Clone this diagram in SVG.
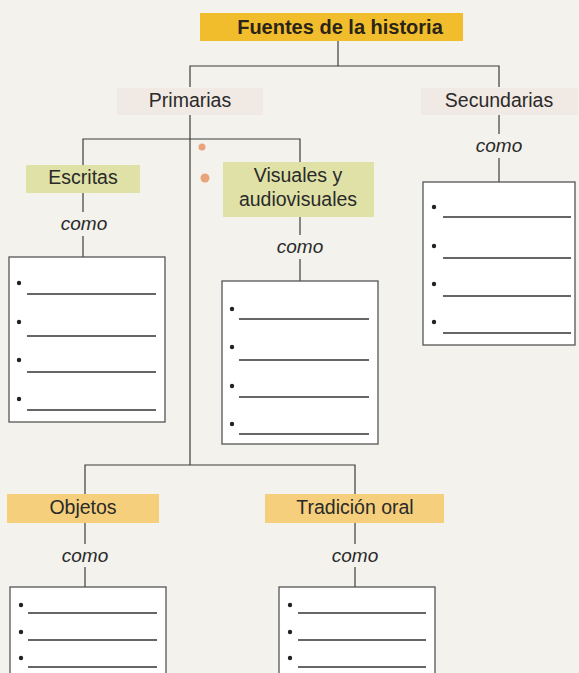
<svg xmlns="http://www.w3.org/2000/svg" width="579" height="673" viewBox="0 0 579 673">
<style>
.bg{fill:#f3f2ec}
.lbl{font-family:"Liberation Sans",Arial,sans-serif;font-size:19.5px;fill:#2a2a2a;text-anchor:middle}
.ttl{font-family:"Liberation Sans",Arial,sans-serif;font-size:20px;font-weight:bold;fill:#2a2418;text-anchor:middle}
.como{font-family:"Liberation Sans",Arial,sans-serif;font-size:19px;font-style:italic;fill:#2a2a2a;text-anchor:middle}
.conn line,.conn path{stroke:#3c3c3c;stroke-width:1.2;fill:none}
.list{fill:#ffffff;stroke:#555;stroke-width:1.3}
.rule{stroke:#333;stroke-width:1.3}
.dot{fill:#222}
.yel{fill:#f2bd2c}
.grn{fill:#dfe1a6}
.org{fill:#f5cf7c}
.pnk{fill:#f1e9e3}
.mark{fill:#eaa47c}
</style>
<rect class="bg" x="0" y="0" width="579" height="673"/>

<g id="connectors" class="conn">
  <line x1="338" y1="40" x2="338" y2="66"/>
  <path d="M190,87 V66 H499 V87"/>
  <line x1="190" y1="115" x2="190" y2="465"/>
  <path d="M83,165 V139 H300 V162"/>
  <line x1="83" y1="193" x2="83" y2="212"/>
  <line x1="83" y1="236" x2="83" y2="257"/>
  <line x1="300" y1="217" x2="300" y2="235"/>
  <line x1="300" y1="259" x2="300" y2="281"/>
  <line x1="499" y1="115" x2="499" y2="134"/>
  <line x1="499" y1="158" x2="499" y2="182"/>
  <path d="M85,494 V465 H355 V494"/>
  <line x1="85" y1="523" x2="85" y2="544"/>
  <line x1="85" y1="567" x2="85" y2="587"/>
  <line x1="355" y1="523" x2="355" y2="544"/>
  <line x1="355" y1="567" x2="355" y2="587"/>
</g>

<g id="marks">
  <circle class="mark" cx="202" cy="147" r="3.5"/>
  <circle class="mark" cx="205" cy="178" r="4.5"/>
</g>

<g id="title">
  <rect class="yel" x="200" y="13" width="263" height="28"/>
  <text class="ttl" x="340" y="34">Fuentes de la historia</text>
</g>

<g id="primarias">
  <rect class="pnk" x="117" y="88" width="146" height="27"/>
  <text class="lbl" x="190" y="107">Primarias</text>
</g>

<g id="secundarias">
  <rect class="pnk" x="421" y="88" width="157" height="27"/>
  <text class="lbl" x="499" y="107">Secundarias</text>
  <text class="como" x="499" y="152">como</text>
  <rect class="list" x="423" y="182" width="152" height="163"/>
  <circle class="dot" cx="434" cy="207" r="2.2"/>
  <line class="rule" x1="443" y1="217" x2="571" y2="217"/>
  <circle class="dot" cx="434" cy="246" r="2.2"/>
  <line class="rule" x1="443" y1="258" x2="571" y2="258"/>
  <circle class="dot" cx="434" cy="284" r="2.2"/>
  <line class="rule" x1="443" y1="296" x2="571" y2="296"/>
  <circle class="dot" cx="434" cy="322" r="2.2"/>
  <line class="rule" x1="443" y1="333" x2="571" y2="333"/>
</g>

<g id="escritas">
  <rect class="grn" x="26" y="165" width="114" height="28"/>
  <text class="lbl" x="83" y="184">Escritas</text>
  <text class="como" x="84" y="230">como</text>
  <rect class="list" x="9" y="257" width="156" height="165"/>
  <circle class="dot" cx="19" cy="283" r="2.2"/>
  <line class="rule" x1="27" y1="294" x2="156" y2="294"/>
  <circle class="dot" cx="19" cy="322" r="2.2"/>
  <line class="rule" x1="27" y1="336" x2="156" y2="336"/>
  <circle class="dot" cx="19" cy="360" r="2.2"/>
  <line class="rule" x1="27" y1="372" x2="156" y2="372"/>
  <circle class="dot" cx="19" cy="399" r="2.2"/>
  <line class="rule" x1="27" y1="410" x2="156" y2="410"/>
</g>

<g id="visuales">
  <rect class="grn" x="223" y="162" width="151" height="55"/>
  <text class="lbl" x="298" y="182">Visuales y</text>
  <text class="lbl" x="298" y="206">audiovisuales</text>
  <text class="como" x="300" y="253">como</text>
  <rect class="list" x="222" y="281" width="156" height="163"/>
  <circle class="dot" cx="232" cy="309" r="2.2"/>
  <line class="rule" x1="239" y1="319" x2="369" y2="319"/>
  <circle class="dot" cx="232" cy="347" r="2.2"/>
  <line class="rule" x1="239" y1="360" x2="369" y2="360"/>
  <circle class="dot" cx="232" cy="386" r="2.2"/>
  <line class="rule" x1="239" y1="397" x2="369" y2="397"/>
  <circle class="dot" cx="232" cy="424" r="2.2"/>
  <line class="rule" x1="239" y1="434" x2="369" y2="434"/>
</g>

<g id="objetos">
  <rect class="org" x="7" y="494" width="152" height="29"/>
  <text class="lbl" x="83" y="514">Objetos</text>
  <text class="como" x="85" y="562">como</text>
  <rect class="list" x="10" y="587" width="156" height="100"/>
  <circle class="dot" cx="21" cy="605" r="2.2"/>
  <line class="rule" x1="28" y1="613" x2="157" y2="613"/>
  <circle class="dot" cx="21" cy="632" r="2.2"/>
  <line class="rule" x1="28" y1="640" x2="157" y2="640"/>
  <circle class="dot" cx="21" cy="658" r="2.2"/>
  <line class="rule" x1="28" y1="667" x2="157" y2="667"/>
</g>

<g id="tradicion">
  <rect class="org" x="265" y="494" width="179" height="29"/>
  <text class="lbl" x="355" y="514">Tradición oral</text>
  <text class="como" x="355" y="562">como</text>
  <rect class="list" x="279" y="587" width="156" height="100"/>
  <circle class="dot" cx="290" cy="605" r="2.2"/>
  <line class="rule" x1="298" y1="613" x2="426" y2="613"/>
  <circle class="dot" cx="290" cy="632" r="2.2"/>
  <line class="rule" x1="298" y1="640" x2="426" y2="640"/>
  <circle class="dot" cx="290" cy="658" r="2.2"/>
  <line class="rule" x1="298" y1="667" x2="426" y2="667"/>
</g>
</svg>
